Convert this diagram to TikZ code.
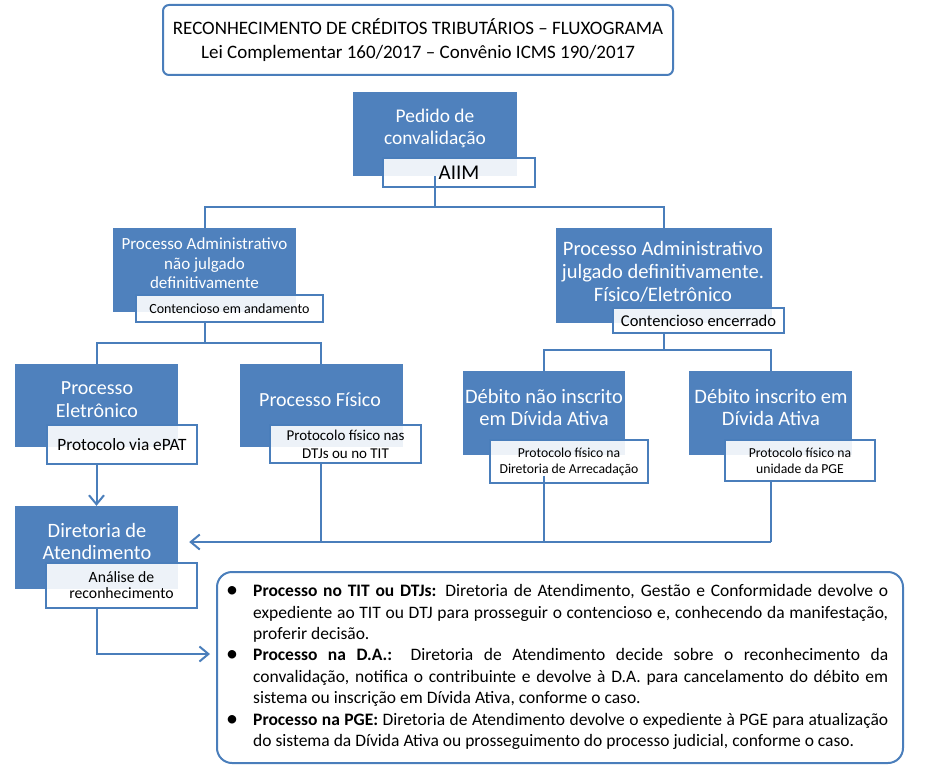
\documentclass[tikz,border=0pt]{standalone}
\usepackage{fontspec}
\setmainfont{Carlito}
\usetikzlibrary{arrows.meta,calc}
\definecolor{boxblue}{HTML}{4F81BD}
\definecolor{lineblue}{HTML}{4A7EBB}
\newcommand\fsz[2]{\fontsize{#1}{#2}\selectfont}
\newcommand\bul{\llap{\makebox[42pt]{\fontsize{24}{24}\selectfont\raisebox{-1pt}{\textbullet}}}}
\begin{document}
\begin{tikzpicture}[x=1pt,y=-1pt,
  bluebox/.style 2 args={draw=none, fill=boxblue, inner sep=0pt, minimum width=#1pt, minimum height=#2pt},
  bluetext/.style={text=white, align=center, inner sep=0pt},
  whitebox/.style 2 args={draw=lineblue, line width=1.5pt, fill=white, fill opacity=0.9, text opacity=1, inner sep=0pt, minimum width=#1pt, minimum height=#2pt, align=center},
  titlebox/.style={draw=lineblue, line width=2pt, rounded corners=6pt, minimum width=510pt, minimum height=70pt, align=center, inner sep=0pt, font=\fsz{19}{24}},
  notebox/.style={draw=lineblue, line width=2pt, rounded corners=15pt, minimum width=686pt, minimum height=191pt, inner sep=0pt},
  conn/.style={draw=lineblue, line width=2pt},
  arr/.style={conn, -{Straight Barb[length=9pt,width=15pt]}}
]
\useasboundingbox (0,0) rectangle (933,767);

% title
\node[titlebox] (title) at (418,40) {RECONHECIMENTO DE CRÉDITOS TRIBUTÁRIOS – FLUXOGRAMA\\Lei Complementar 160/2017 – Convênio ICMS 190/2017};

% blue boxes
\node[bluebox={164}{84}] (pedido) at (435,134) {};
\node[bluebox={183}{84}] (l2l) at (204.5,270) {};
\node[bluebox={216}{95}] (l2r) at (664,275.5) {};
\node[bluebox={163}{83}] (pe) at (96.5,405.5) {};
\node[bluebox={163}{83}] (pf) at (321,405.5) {};
\node[bluebox={162}{84}] (dn) at (544,413) {};
\node[bluebox={163}{84}] (di) at (770.5,413) {};
\node[bluebox={163}{83}] (da) at (96.5,547.5) {};

% blue box texts
\node[bluetext,font=\fsz{19.4}{22}] (pedidoT) at (435,128) {Pedido de\\convalidação};
\node[bluetext,font=\fsz{17}{19.5}] (l2lT) at (204.5,263.5) {Processo Administrativo\\não julgado\\definitivamente};
\node[bluetext,font=\fsz{20.5}{23}] (l2rT) at (663,272) {Processo Administrativo\\julgado definitivamente.\\Físico/Eletrônico};
\node[bluetext,font=\fsz{20}{23.5}] (peT) at (97,399.5) {Processo\\Eletrônico};
\node[bluetext,font=\fsz{20}{24}] (pfT) at (320,400) {Processo Físico};
\node[bluetext,font=\fsz{20.5}{22}] (dnT) at (544,407.5) {Débito não inscrito\\em Dívida Ativa};
\node[bluetext,font=\fsz{20.5}{22}] (diT) at (771,407.5) {Débito inscrito em\\Dívida Ativa};
\node[bluetext,font=\fsz{20.4}{22}] (daT) at (97,541) {Diretoria de\\Atendimento};

% white boxes
\node[whitebox={152}{29},font=\fsz{21}{24}] (aiim) at (459,172.5) {AIIM};
\node[whitebox={187}{27},font=\fsz{14}{16}] (l2lw) at (229.5,308.5) {Contencioso em andamento};
\node[whitebox={171}{25},font=\fsz{16.5}{18}] (l2rw) at (698.5,320.5) {Contencioso encerrado};
\node[whitebox={150}{39},font=\fsz{17.3}{20}] (pew) at (122,444.5) {Protocolo via ePAT};
\node[whitebox={151}{38},font=\fsz{15}{18}] (pfw) at (345.5,444) {Protocolo físico nas\\DTJs ou no TIT};
\node[whitebox={158}{43},font=\fsz{13.7}{16}] (dnw) at (569,461.5) {Protocolo físico na\\Diretoria de Arrecadação};
\node[whitebox={150}{41},font=\fsz{13.7}{16}] (diw) at (800,460.5) {Protocolo físico na\\unidade da PGE};
\node[whitebox={151}{45},font=\fsz{15.7}{16}] (daw) at (121.5,585.5) {Análise de\\reconhecimento};

% notes
\node[notebox] (notes) at (560,667.5) {};
\node[inner sep=0pt, anchor=west] (notesT) at (253,667) {\parbox{635pt}{\fsz{17.5}{21.4}%
\noindent\bul\makebox[635pt][s]{\textbf{Processo no TIT ou DTJs:} Diretoria de Atendimento, Gestão e Conformidade devolve o}\\
\makebox[635pt][s]{expediente ao TIT ou DTJ para prosseguir o contencioso e, conhecendo da manifestação,}\\
proferir decisão.\\
\bul\makebox[635pt][s]{\textbf{Processo na D.A.:} Diretoria de Atendimento decide sobre o reconhecimento da}\\
\makebox[635pt][s]{convalidação, notifica o contribuinte e devolve à D.A. para cancelamento do débito em}\\
sistema ou inscrição em Dívida Ativa, conforme o caso.\\
\bul\makebox[635pt][s]{\textbf{Processo na PGE:} Diretoria de Atendimento devolve o expediente à PGE para atualização}\\
do sistema da Dívida Ativa ou prosseguimento do processo judicial, conforme o caso.}};

% junctions
\coordinate (j1) at (435,207);
\coordinate (j2) at (204.5,343);
\coordinate (j3) at (664,350);
\coordinate (j4) at (0,542);
\coordinate (j5) at (96.5,654);

% connectors
\draw[conn] (pedido.south) -- (j1);
\draw[conn] (l2l.north) |- (j1) -| (l2r.north);
\draw[conn] (l2l.south |- l2lw.south) -- (j2);
\draw[conn] (pe.north) |- (j2) -| (pf.north);
\draw[conn] (l2r.south |- l2rw.south) -- (j3);
\draw[conn] (dn.north) |- (j3) -| (di.north);
\draw[arr] (pe.south |- pew.south) -- (da.north);
\draw[conn] (pf.south |- pfw.south) -- (pf.south |- j4);
\draw[conn] ($(dn.south |- dnw.south)+(0,-8)$) -- (dn.south |- j4);
\draw[conn] (di.south |- diw.south) -- (di.south |- j4);
\draw[arr, shorten >=11pt] (di.south |- j4) -- (da.east |- j4);
\draw[arr, shorten >=6pt] (da.south |- daw.south) -- (j5) -- (notes.west |- j5);
\end{tikzpicture}
\end{document}
